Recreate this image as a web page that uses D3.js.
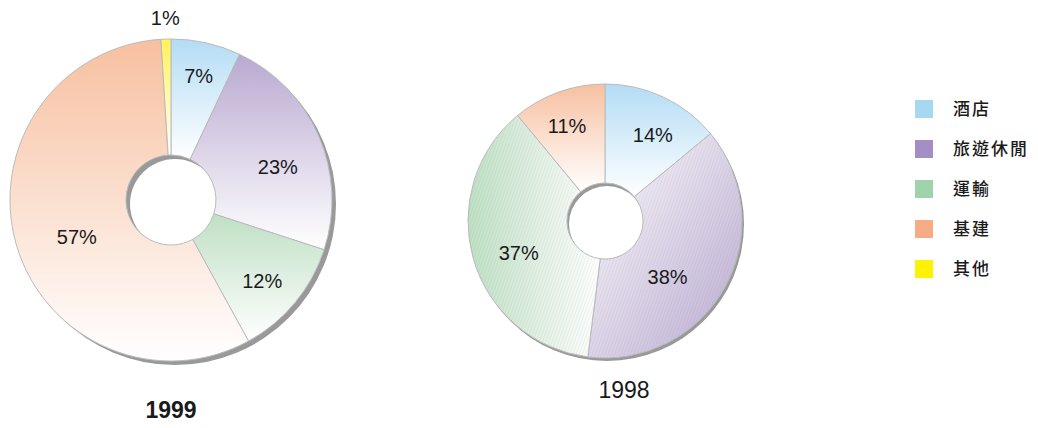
<!DOCTYPE html>
<html>
<head>
<meta charset="utf-8">
<script src="https://cdn.jsdelivr.net/npm/d3@7"></script>
<style>
body { margin:0; background:#fff; }
svg { display:block; }
text { font-family: "Liberation Sans", Arial, sans-serif; fill:#1a1a1a; }
.legend text { font-family: "Noto Sans CJK TC", "Noto Sans CJK SC", sans-serif; font-size:17px; font-weight:500; letter-spacing:2px; }
</style>
</head>
<body>
<div id="vis"></div>
<script>
var categories = ["酒店", "旅遊休閒", "運輸", "基建", "其他"];
var colors = ["#a6d8f2", "#a38fc4", "#9fd3ab", "#f7ac85", "#fff200"];
var topColors = ["#b3dcf5", "#b9a9d1", "#bfe0c4", "#f7c0a0", "#fff25a"];
var values1999 = [7, 23, 12, 57, 1];
var values1998 = [14, 38, 37, 11, 0];

var w = 1038, h = 428;

var svg = d3.select("#vis")
	.append("svg")
	.attr("width", w)
	.attr("height", h);

var defs = svg.append("defs");

// fine hatch for the 1998 chart
var pat = defs.append("pattern")
	.attr("id", "hatch")
	.attr("patternUnits", "userSpaceOnUse")
	.attr("width", 3).attr("height", 3)
	.attr("patternTransform", "rotate(20)");
pat.append("line")
	.attr("x1", 0).attr("y1", 0).attr("x2", 0).attr("y2", 3)
	.attr("stroke", "#888").attr("stroke-width", 0.6).attr("opacity", 0.35);

function makeGrad(id, color, x1, y1, x2, y2)
{
	var g = defs.append("linearGradient")
		.attr("id", id)
		.attr("x1", x1).attr("y1", y1).attr("x2", x2).attr("y2", y2);
	g.append("stop").attr("offset", "0%").attr("stop-color", color);
	g.append("stop").attr("offset", "100%").attr("stop-color", "#fff");
}

// 1999 : all vertical, colour at top
categories.forEach(function(c, i){
	makeGrad("g99_" + i, topColors[i], 0, 0, 0, 1);
});
// 1998 : direction per slice
var dir98 = [[0,0,0,1], [1,1,0,0], [0,0.5,1,0.5], [0,0,0,1], [0,0,0,1]];
categories.forEach(function(c, i){
	var d = dir98[i];
	makeGrad("g98_" + i, topColors[i], d[0], d[1], d[2], d[3]);
});

function donut(opt)
{
	var data = opt.values.map(function(v, i){ return {cat: categories[i], value: v, i: i}; })
		.filter(function(d){ return d.value > 0; });

	var pie = d3.pie().sort(null).value(function(d){ return d.value; });
	var arcs = pie(data);
	var arc = d3.arc().innerRadius(opt.r0).outerRadius(opt.r1);
	var full = d3.arc().innerRadius(opt.r0).outerRadius(opt.r1).startAngle(0).endAngle(2 * Math.PI);

	var g = svg.append("g").attr("transform", "translate(" + opt.cx + "," + opt.cy + ")");

	// drop shadow
	g.append("path")
		.attr("d", full())
		.attr("transform", "translate(" + opt.sh[0] + "," + opt.sh[1] + ")")
		.attr("fill", "#999");

	g.selectAll("path.slice")
		.data(arcs)
		.enter()
		.append("path")
		.attr("class", "slice")
		.attr("d", arc)
		.attr("fill", function(d){ return "url(#" + opt.prefix + d.data.i + ")"; })
		.attr("stroke", "#bbb")
		.attr("stroke-width", 1);

	if (opt.hatch)
	{
		g.selectAll("path.hatch")
			.data(arcs.filter(function(d){ return d.data.i == 1 || d.data.i == 2; }))
			.enter()
			.append("path")
			.attr("class", "hatch")
			.attr("d", arc)
			.attr("fill", "url(#hatch)");
	}

	// label radius / angle nudge per slice (layout only)
	g.selectAll("text.pct")
		.data(arcs)
		.enter()
		.append("text")
		.attr("class", "pct")
		.attr("text-anchor", "middle")
		.attr("dy", "0.35em")
		.attr("font-size", 20)
		.attr("transform", function(d){
			var a = (d.startAngle + d.endAngle) / 2 + opt.la[d.data.i] * Math.PI / 180;
			var r = opt.lr[d.data.i];
			return "translate(" + (Math.sin(a) * r) + "," + (-Math.cos(a) * r) + ")";
		})
		.text(function(d){ return d.data.value + "%"; });

	svg.append("text")
		.attr("x", opt.tx).attr("y", opt.ty)
		.attr("text-anchor", "middle")
		.attr("font-size", opt.tsize)
		.attr("font-weight", opt.tweight)
		.text(opt.title);
}

donut({values: values1999, cx: 171, cy: 200, r0: 45, r1: 161,
	lr: [127, 112, 122, 101, 182], la: [0, 6, 2, -5, 0], sh: [4, 4],
	prefix: "g99_", hatch: false, title: "1999", tx: 171, ty: 418, tsize: 23, tweight: "bold"});
donut({values: values1998, cx: 605, cy: 221, r0: 38, r1: 137,
	lr: [98, 84, 92, 102, 0], la: [4, 13, -4, -2, 0], sh: [2, 3],
	prefix: "g98_", hatch: true, title: "1998", tx: 624, ty: 398, tsize: 23, tweight: "normal"});

// legend
var legend = svg.append("g").attr("class", "legend");
var items = legend.selectAll("g")
	.data(categories)
	.enter()
	.append("g")
	.attr("transform", function(d, i){ return "translate(915," + (100 + i * 40) + ")"; });
items.append("rect")
	.attr("width", 18).attr("height", 18)
	.attr("fill", function(d, i){ return colors[i]; });
items.append("text")
	.attr("x", 38).attr("y", 15)
	.text(function(d){ return d; });
</script>
</body>
</html>
